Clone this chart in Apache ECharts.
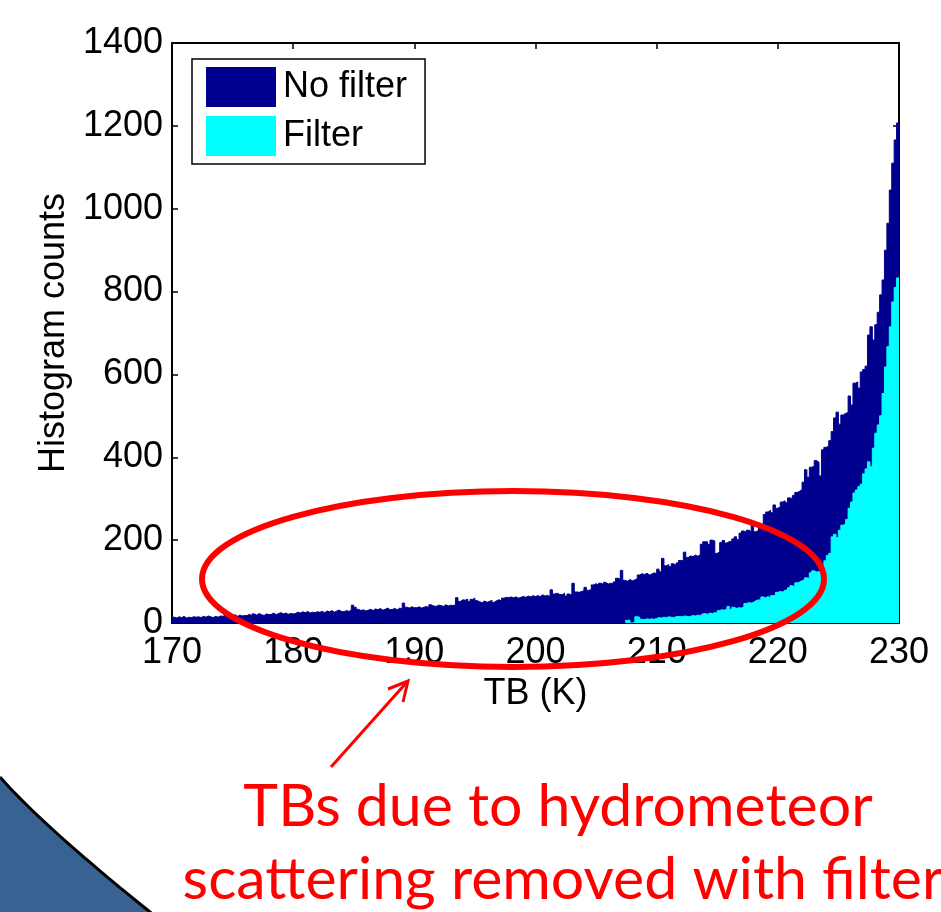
<!DOCTYPE html>
<html>
<head>
<meta charset="utf-8">
<script src="https://cdn.jsdelivr.net/npm/echarts@6/dist/echarts.min.js"></script>
<style>
  html, body { margin: 0; padding: 0; background: #fff; }
  #chart { width: 941px; height: 912px; }
</style>
</head>
<body>
<div id="chart"></div>
<script>
// histogram bins: 0.2 K wide, starting at 170 K
const binStart = 170;
const binWidth = 0.2;

// counts per bin, no filter (170.0 .. 229.8)
const noFilter = [
  14, 12, 15, 13, 16, 12, 14, 13, 15, 14,
  15, 13, 16, 14, 17, 15, 13, 16, 14, 17,
  16, 19, 15, 18, 17, 20, 16, 19, 17, 18,
  18, 21, 17, 22, 19, 23, 20, 18, 22, 20,
  21, 24, 20, 23, 25, 22, 24, 21, 23, 22,
  23, 26, 24, 27, 25, 28, 24, 26, 25, 27,
  26, 28, 25, 29, 27, 30, 26, 29, 31, 28,
  27, 30, 28, 31, 43, 38, 33, 30, 32, 29,
  31, 33, 30, 34, 32, 35, 31, 33, 36, 32,
  33, 35, 32, 36, 34, 48, 38, 36, 39, 37,
  37, 39, 36, 38, 40, 37, 44, 41, 40, 43,
  42, 40, 44, 41, 43, 42, 44, 61, 52, 56,
  55, 58, 52, 57, 60, 54, 51, 49, 53, 50,
  52, 55, 50, 54, 56, 53, 60, 62, 61, 63,
  61, 63, 60, 62, 64, 62, 65, 63, 66, 64,
  66, 64, 68, 65, 67, 63, 80, 70, 72, 69,
  68, 72, 65, 70, 67, 96, 75, 74, 76, 78,
  86, 79, 80, 92, 95, 91, 96, 93, 98, 94,
  96, 94, 99, 108, 106, 127, 103, 101, 105, 102,
  104, 107, 116, 119, 117, 120, 116, 118, 121, 119,
  130, 124, 156, 138, 141, 136, 143, 139, 145, 151,
  150, 171, 158, 162, 160, 164, 161, 165, 190, 196,
  196, 190, 200, 198, 168, 172, 194, 199, 193, 197,
  196, 203, 208, 201, 217, 222, 219, 224, 221, 240,
  220, 224, 232, 230, 262, 268, 272, 266, 285, 277,
  280, 292, 295, 290, 302, 300, 308, 315, 318, 322,
  340, 370, 352, 376, 378, 392, 388, 355, 418, 424,
  427, 440, 462, 495, 509, 480, 502, 506, 508, 548,
  526, 579, 582, 567, 606, 612, 620, 695, 715, 683,
  720, 750, 792, 828, 900, 965, 1045, 1110, 1166, 1207
];

// counts per bin with the filter, first non-empty bin at 207.4 K
const filterStart = 207.4;
const filter = [
  6, 7, 0,
  2, 15, 14, 9, 8, 10, 9, 10, 9, 11,
  13, 12, 14, 13, 15, 14, 13, 15, 16, 15,
  16, 17, 15, 16, 18, 17, 19, 18, 22, 23,
  21, 24, 23, 25, 24, 30, 32, 31, 34, 40,
  33, 38, 35, 37, 36, 39, 47, 49, 48, 50,
  54, 56, 55, 63, 61, 64, 60, 66, 67, 74,
  76, 75, 79, 80, 85, 90, 88, 97, 99, 102,
  104, 109, 108, 121, 126, 123, 124, 122, 138, 150,
  163, 168, 208, 214, 206, 224, 236, 240, 250, 277,
  292, 314, 321, 329, 335, 360, 372, 389, 377, 422,
  458, 478, 500, 554, 618, 667, 715, 775, 810, 833
];

const seriesNames = ['No filter', 'Filter'];
const xRange = [170, 230];
const xStep = 10;
const yRange = [0, 1400];
const yStep = 200;

// bars as a stepped area: each value spans [left edge, left edge + binWidth]
function toSteps(values, start) {
  const pts = values.map((v, i) => [+(start + i * binWidth).toFixed(2), v]);
  pts.push([+(start + values.length * binWidth).toFixed(2), values[values.length - 1]]);
  return pts;
}

const font = 'Liberation Sans';
const lineCol = '#000';

function boxAxis(extra) {
  return Object.assign({
    type: 'value',
    axisLine: { show: true, onZero: false, lineStyle: { color: lineCol, width: 2 } },
    axisTick: { show: true, inside: true, length: 6, lineStyle: { color: lineCol, width: 1.5 } },
    splitLine: { show: false },
    axisLabel: { show: false }
  }, extra);
}

// bottom-left slide decoration (curved band)
const decoCurve = [];
for (let t = 0; t <= 1.0001; t += 0.05) {
  const a = (1 - t) * (1 - t), b = 2 * t * (1 - t), c = t * t;
  decoCurve.push([a * 0 + b * 43 + c * 150, a * 777 + b * 826 + c * 912]);
}
const decoCurveExt = decoCurve.concat([[175, 935]]);

const chart = echarts.init(document.getElementById('chart'));
chart.setOption({
  animation: false,
  backgroundColor: '#fff',
  grid: { left: 172, top: 43, right: 42, bottom: 289 },
  legend: {
    data: seriesNames,
    orient: 'vertical',
    left: 192,
    top: 59,
    icon: 'rect',
    itemWidth: 70,
    itemHeight: 40,
    itemGap: 9,
    padding: [8, 18, 8, 14],
    borderColor: '#000',
    borderWidth: 1.5,
    backgroundColor: '#fff',
    selectedMode: false,
    textStyle: { fontSize: 36, color: '#000', fontFamily: font, padding: [0, 0, 0, 2] }
  },
  xAxis: [
    boxAxis({
      position: 'bottom',
      min: xRange[0], max: xRange[1], interval: xStep,
      axisLabel: { show: true, fontSize: 36, color: '#000', fontFamily: font, margin: 12, formatter: v => String(v) },
      name: 'TB (K)',
      nameLocation: 'middle',
      nameGap: 50,
      nameTextStyle: { fontSize: 36, color: '#000', fontFamily: font }
    }),
    boxAxis({ position: 'top', min: xRange[0], max: xRange[1], interval: xStep })
  ],
  yAxis: [
    boxAxis({
      position: 'left',
      min: yRange[0], max: yRange[1], interval: yStep,
      axisLabel: { show: true, fontSize: 36, color: '#000', fontFamily: font, margin: 9, formatter: v => String(v) },
      name: 'Histogram counts',
      nameLocation: 'middle',
      nameRotate: 90,
      nameGap: 93,
      nameTextStyle: { fontSize: 36, color: '#000', fontFamily: font }
    }),
    boxAxis({ position: 'right', min: yRange[0], max: yRange[1], interval: yStep })
  ],
  series: [
    {
      name: seriesNames[0],
      type: 'line',
      step: 'end',
      data: toSteps(noFilter, binStart),
      symbol: 'none',
      color: '#00008F',
      lineStyle: { width: 1, color: '#00008F' },
      areaStyle: { color: '#00008F', opacity: 1 },
      z: 2
    },
    {
      name: seriesNames[1],
      type: 'line',
      step: 'end',
      data: toSteps(filter, filterStart),
      symbol: 'none',
      color: '#00FFFF',
      lineStyle: { width: 1, color: '#00FFFF' },
      areaStyle: { color: '#00FFFF', opacity: 1 },
      z: 3
    }
  ],
  graphic: [
    {
      type: 'polygon', z: 50,
      shape: { points: decoCurveExt.concat([[0, 935]]) },
      style: { fill: '#386291', stroke: null }
    },
    {
      type: 'polyline', z: 51,
      shape: { points: decoCurveExt },
      style: { stroke: '#000', lineWidth: 3, fill: null }
    },
    {
      type: 'ellipse', z: 100,
      shape: { cx: 513, cy: 579, rx: 311, ry: 88 },
      style: { fill: null, stroke: '#FF0000', lineWidth: 6 }
    },
    {
      type: 'line', z: 100,
      shape: { x1: 331, y1: 767, x2: 407, y2: 682 },
      style: { stroke: '#FF0000', lineWidth: 3 }
    },
    {
      type: 'polyline', z: 100,
      shape: { points: [[388, 689], [408, 681], [403, 702]] },
      style: { stroke: '#FF0000', lineWidth: 3, fill: null }
    },
    {
      type: 'text', z: 100, x: 558, y: 807,
      style: { text: 'TBs due to hydrometeor', font: '59px Lato', fill: '#FF0000', align: 'center', verticalAlign: 'middle' }
    },
    {
      type: 'text', z: 100, x: 563, y: 880,
      style: { text: 'scattering removed with filter', font: '59px Lato', fill: '#FF0000', align: 'center', verticalAlign: 'middle' }
    }
  ]
});
</script>
</body>
</html>
